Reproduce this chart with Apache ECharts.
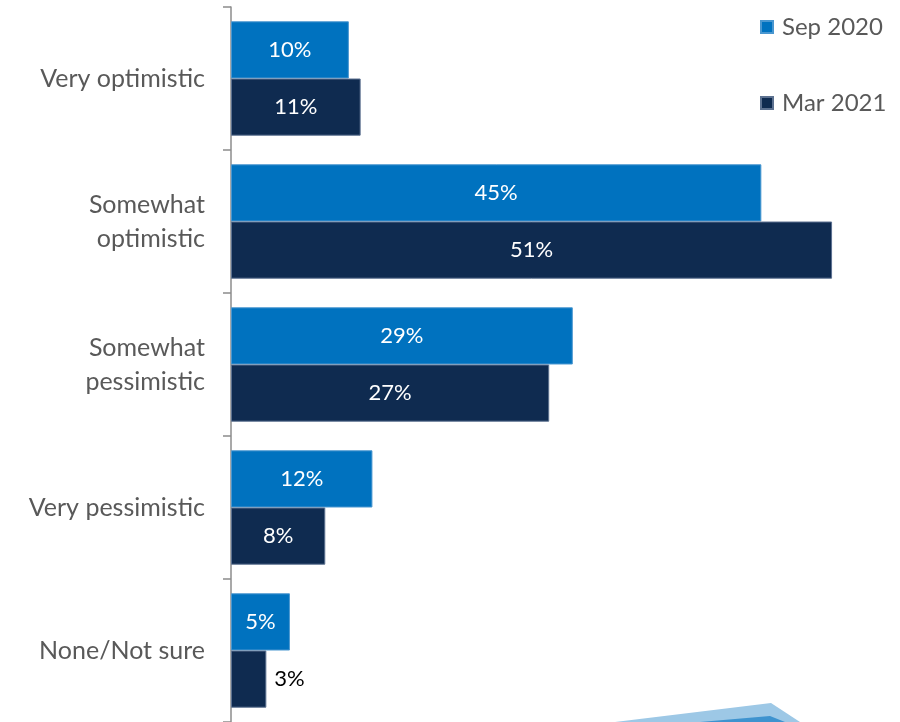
<!DOCTYPE html>
<html>
<head>
<meta charset="utf-8">
<script src="https://cdn.jsdelivr.net/npm/echarts@6/dist/echarts.min.js"></script>
<style>
  html, body { margin: 0; padding: 0; background: #fff; }
  #chart { width: 900px; height: 722px; }
</style>
</head>
<body>
<div id="chart"></div>
<script>
const categories = ['Very optimistic', 'Somewhat\noptimistic', 'Somewhat\npessimistic', 'Very pessimistic', 'None/Not sure'];
const seriesNames = ['Sep 2020', 'Mar 2021'];
const sep2020 = [10, 45, 29, 12, 5];
const mar2021 = [11, 51, 27, 8, 3];

const chart = echarts.init(document.getElementById('chart'));

const fontFamily = 'Lato, "Open Sans", sans-serif';

// labels inside bars in white; small bars get the label outside in black
function barLabel(val) {
    const outside = val < 4;
    return {
        show: true,
        position: outside ? 'right' : 'inside',
        distance: 8,
        color: outside ? '#000' : '#fff',
        fontSize: 22,
        fontFamily: fontFamily,
        formatter: '{c}%'
    };
}

const options = {
    backgroundColor: '#fff',
    animation: false,
    grid: {
        left: 231,
        top: 7,
        width: 660,
        height: 718
    },
    legend: {
        orient: 'vertical',
        left: 755,
        top: 10,
        itemWidth: 12,
        itemHeight: 12,
        itemGap: 52,
        icon: 'rect',
        textStyle: {
            color: '#595959',
            fontSize: 24,
            fontFamily: fontFamily,
            padding: [0, 0, 0, 4]
        },
        data: seriesNames
    },
    xAxis: {
        type: 'value',
        min: 0,
        max: 56,
        show: false
    },
    yAxis: {
        type: 'category',
        inverse: true,
        data: categories,
        axisLine: { lineStyle: { color: '#8c8c8c', width: 1.5 } },
        axisTick: { show: true, length: 8, lineStyle: { color: '#8c8c8c', width: 1.5 } },
        axisLabel: {
            color: '#595959',
            fontSize: 25,
            fontFamily: fontFamily,
            lineHeight: 34,
            margin: 26
        }
    },
    series: [
        {
            name: seriesNames[0],
            type: 'bar',
            data: sep2020.map(v => ({ value: v, label: barLabel(v) })),
            barGap: '0%',
            barCategoryGap: '20%',
            itemStyle: { color: '#0072BF', borderColor: '#4a97d0', borderWidth: 1 }
        },
        {
            name: seriesNames[1],
            type: 'bar',
            data: mar2021.map(v => ({ value: v, label: barLabel(v) })),
            barGap: '0%',
            barCategoryGap: '20%',
            itemStyle: { color: '#0F2B50', borderColor: '#5c7190', borderWidth: 1 }
        }
    ],
    // decorative shape peeking in at the bottom edge
    graphic: [
        {
            type: 'polygon',
            shape: { points: [[615, 722], [771, 703], [800, 722]] },
            style: { fill: '#9DC8E6' }
        },
        {
            type: 'polygon',
            shape: { points: [[700, 722], [770, 716], [785, 722]] },
            style: { fill: '#3E93CF' }
        }
    ]
};

chart.setOption(options);
</script>
</body>
</html>
